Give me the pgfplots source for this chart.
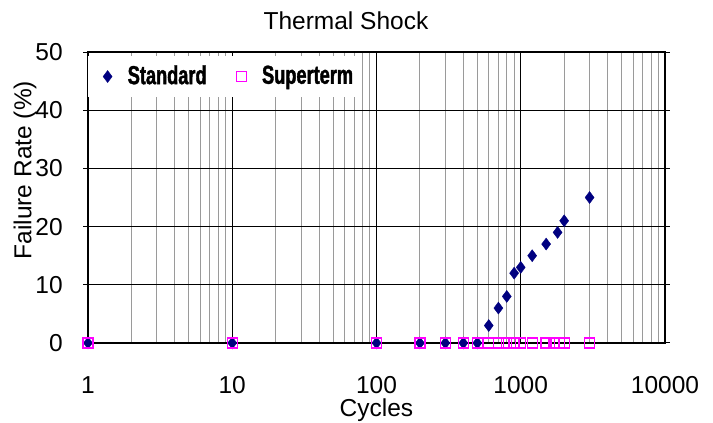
\documentclass[border=0pt]{standalone}
\usepackage{fontspec}
\setmainfont{Liberation Sans}
\newfontfamily\legfont{Liberation Sans}[FakeStretch=0.7, BoldFeatures={FakeBold=1.5}]
\usepackage{pgfplots}
\pgfplotsset{compat=1.18}
\definecolor{stdnavy}{HTML}{000080}
\definecolor{supmag}{HTML}{FF00FF}
\definecolor{mingrid}{HTML}{9A9A9A}
\pgfplotsset{
    wide mark legend/.style={
        legend image code/.code={
            \path (0cm,0cm) (1.13cm,0cm);
            \draw[mark repeat=2, mark phase=2, #1]
            plot coordinates {(0cm,0cm) (0.5cm,0cm) (1.0cm,0cm)};}},
}

\begin{document}
\fontsize{24.5}{28}\selectfont
\begin{tikzpicture}
\useasboundingbox (0,0) rectangle (713pt,423pt);
\begin{axis}[
    at={(88pt,80pt)}, anchor=south west,
    scale only axis,
    width=577pt, height=291pt,
    xmode=log, log basis x=10,
    xmin=1, xmax=10000,
    ymin=0, ymax=50,
    xtick={1,10,100,1000,10000},
    xticklabels={1,10,100,1000,10000},
    minor xtick={2,3,4,5,6,7,8,9,20,30,40,50,60,70,80,90,
                 200,300,400,500,600,700,800,900,
                 2000,3000,4000,5000,6000,7000,8000,9000},
    ytick={0,10,20,30,40,50},
    /pgf/number format/assume math mode=true,
    grid=both,
    major grid style={black, line width=1.1pt},
    minor grid style={mingrid, line width=0.9pt},
    axis line style={black, line width=1.3pt},
    tick align=outside,
    major tick length=5pt,
    xtick style={draw=none},
    minor tick style={draw=none},
    ytick style={black, line width=1pt},
    xticklabel style={yshift=-20pt},
    yticklabel style={xshift=-12pt},
    clip=false,
    title={Thermal Shock},
    title style={at={(axis description cs:0.447,1.086)}, anchor=center},
    xlabel={Cycles},
    every axis x label/.style={at={(axis description cs:0.5,0)}, anchor=base, yshift=-74pt},
    ylabel={Failure Rate (\%)},
    every axis y label/.style={at={(axis description cs:-0.109,0.594)}, rotate=90, anchor=center},
    legend columns=2,
    legend style={at={(axis description cs:0,0.986)}, anchor=north west,
        draw=none, fill=white, inner xsep=5pt, inner ysep=7pt,
        font=\fontsize{26}{28}\selectfont\legfont\bfseries,
        /tikz/every even column/.append style={column sep=18pt}},
]
\addplot[only marks, wide mark legend, mark=diamond*, mark size=6pt,
         color=stdnavy, mark options={draw=stdnavy, fill=stdnavy}]
  coordinates {(1,0) (10,0) (100,0) (200,0) (300,0) (400,0) (500,0)
               (600,3) (700,6) (800,8) (900,12) (1000,13) (1200,15)
               (1500,17) (1800,19) (2000,21) (3000,25)};
\addlegendentry{Standard}
\addplot[only marks, wide mark legend, mark=square, mark size=5pt,
         color=supmag, line width=1.3pt, mark options={draw=supmag}]
  coordinates {(1,0) (10,0) (100,0) (200,0) (300,0) (400,0) (500,0)
               (600,0) (700,0) (800,0) (900,0) (1000,0) (1200,0)
               (1500,0) (1700,0) (1850,0) (2000,0) (3000,0)};
\addlegendentry{Superterm}
\end{axis}
\end{tikzpicture}
\end{document}
